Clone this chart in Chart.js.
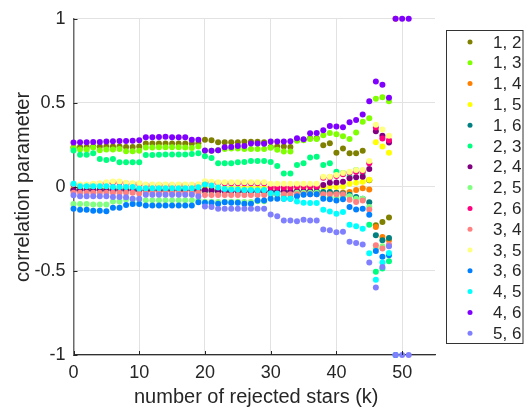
<!DOCTYPE html>
<html>
<head>
<meta charset="utf-8">
<script src="https://cdn.jsdelivr.net/npm/chart.js@4/dist/chart.umd.min.js"></script>
<style>
  html, body { margin: 0; padding: 0; background: #fff; }
  #wrap { width: 524px; height: 407px; }
</style>
</head>
<body>
<div id="wrap"><canvas id="chart" width="524" height="407"></canvas></div>
<script>
// number of rejected stars (k)
const kValues = [0, 1, 2, 3, 4, 5, 6, 7, 8, 9, 10, 11, 12, 13, 14, 15, 16, 17, 18, 19,
  20, 21, 22, 23, 24, 25, 26, 27, 28, 29, 30, 31, 32, 33, 34, 35, 36, 37, 38, 39,
  40, 41, 42, 43, 44, 45, 46, 47, 48, 49, 50, 51];

const xTickValues = [0, 10, 20, 30, 40, 50];
const yTickValues = [-1, -0.5, 0, 0.5, 1];
const yTickLabels = ['-1', '-0.5', '0', '0.5', '1'];

const seriesLabels = ['1, 2', '1, 3', '1, 4', '1, 5', '1, 6', '2, 3', '2, 4', '2, 5',
  '2, 6', '3, 4', '3, 5', '3, 6', '4, 5', '4, 6', '5, 6'];

// correlation parameter per pair, one value per k (null = no point)
const s12 = [0.235, 0.237, 0.238, 0.240, 0.240, 0.240, 0.240, 0.240, 0.238, 0.238,
  0.240, 0.258, 0.258, 0.258, 0.258, 0.258, 0.258, 0.258, 0.258, 0.260,
  0.280, 0.278, 0.265, 0.265, 0.265, 0.265, 0.268, 0.268, 0.268, 0.266,
  0.238, 0.240, 0.240, 0.238, 0.280, 0.280, 0.290, 0.290, 0.248, 0.259,
  0.203, 0.229, 0.200, 0.200, 0.215, 0.040, -0.228, -0.209, -0.182, null, null, null];
const s13 = [0.232, 0.222, 0.222, 0.235, 0.218, 0.222, 0.222, 0.225, 0.212, 0.212,
  0.215, 0.234, 0.234, 0.236, 0.236, 0.236, 0.236, 0.234, 0.232, 0.240,
  0.215, 0.215, 0.218, 0.225, 0.228, 0.228, 0.225, 0.225, 0.225, 0.225,
  0.233, 0.221, 0.210, 0.210, 0.275, 0.278, 0.285, 0.285, 0.308, 0.320,
  0.313, 0.302, 0.285, 0.323, 0.388, 0.408, 0.524, 0.534, 0.510, null, null, null];
const s14 = [-0.012, -0.015, -0.015, -0.016, -0.016, -0.015, -0.014, -0.014, -0.016, -0.018,
  -0.020, -0.022, -0.022, -0.022, -0.022, -0.022, -0.022, -0.022, -0.022, -0.020,
  -0.025, -0.025, -0.028, -0.028, -0.028, -0.028, -0.028, -0.028, -0.028, -0.028,
  -0.030, -0.030, -0.030, -0.030, -0.030, -0.030, -0.030, -0.030, -0.038, -0.036,
  -0.035, -0.033, -0.030, -0.018, -0.008, -0.016, -0.239, -0.298, -0.318, 1, null, null];
const s15 = [-0.006, -0.008, -0.008, -0.008, -0.008, -0.008, -0.006, -0.006, -0.008, -0.008,
  -0.010, -0.008, -0.008, -0.008, -0.008, -0.008, -0.008, -0.008, -0.008, -0.006,
  -0.004, -0.004, -0.006, -0.006, -0.006, -0.006, -0.006, -0.006, -0.006, -0.006,
  -0.006, -0.006, -0.006, -0.006, -0.004, -0.004, -0.004, -0.004, -0.002, 0.000,
  0.000, 0.002, 0.018, 0.024, 0.030, 0.043, 0.266, 0.240, 0.203, null, null, null];
const s16 = [-0.020, -0.020, -0.020, -0.020, -0.020, -0.020, -0.020, -0.020, -0.020, -0.020,
  -0.022, -0.022, -0.022, -0.022, -0.022, -0.022, -0.022, -0.022, -0.022, -0.022,
  -0.025, -0.025, -0.025, -0.025, -0.025, -0.025, -0.025, -0.025, -0.025, -0.025,
  -0.026, -0.026, -0.026, -0.026, -0.026, -0.026, -0.026, -0.026, -0.030, -0.030,
  -0.035, -0.040, -0.047, -0.060, -0.070, -0.091, -0.288, -0.318, -0.304, null, null, null];
const s23 = [0.217, 0.191, 0.191, 0.200, 0.166, 0.160, 0.166, 0.146, 0.146, 0.146,
  0.146, 0.190, 0.190, 0.191, 0.192, 0.192, 0.192, 0.193, 0.195, 0.200,
  0.182, 0.172, 0.140, 0.140, 0.140, 0.146, 0.148, 0.154, 0.154, 0.154,
  0.148, 0.124, 0.080, 0.080, 0.131, 0.140, 0.175, 0.179, 0.131, 0.140,
  0.090, 0.083, 0.060, 0.100, 0.080, -0.225, -0.505, -0.485, -0.442, null, null, null];
const s24 = [-0.018, -0.018, -0.018, -0.018, -0.018, -0.018, -0.018, -0.018, -0.018, -0.018,
  -0.018, -0.018, -0.018, -0.018, -0.018, -0.018, -0.018, -0.018, -0.018, -0.018,
  -0.018, -0.018, -0.026, -0.026, -0.026, -0.026, -0.026, -0.026, -0.026, -0.026,
  -0.028, -0.028, -0.028, -0.028, -0.028, -0.028, -0.028, 0.000, 0.012, 0.024,
  0.026, 0.030, 0.051, 0.057, 0.060, 0.106, 0.331, 0.305, 0.264, null, null, null];
const s25 = [-0.101, -0.101, -0.101, -0.104, -0.104, -0.104, -0.087, -0.087, -0.075, -0.075,
  -0.075, -0.079, -0.079, -0.079, -0.079, -0.079, -0.079, -0.079, -0.079, -0.076,
  -0.088, -0.088, -0.090, -0.088, -0.088, -0.088, -0.090, -0.090, -0.086, -0.086,
  -0.050, -0.050, -0.050, -0.050, -0.035, -0.035, -0.035, -0.035, -0.060, -0.060,
  -0.062, -0.060, -0.055, -0.070, -0.070, -0.120, -0.367, -0.353, -0.350, -1, null, null];
const s26 = [0.013, 0.010, 0.010, 0.013, 0.017, 0.022, 0.026, 0.026, 0.020, 0.017,
  0.017, 0.010, 0.010, 0.010, 0.010, 0.010, 0.010, 0.010, 0.010, 0.012,
  0.028, 0.025, 0.023, 0.022, 0.022, 0.022, 0.022, 0.022, 0.022, 0.022,
  -0.004, -0.004, -0.004, -0.004, 0.002, 0.002, 0.002, 0.002, 0.055, 0.058,
  0.065, 0.075, 0.085, 0.090, 0.092, 0.140, 0.353, 0.288, 0.278, null, null, null];
const s34 = [-0.035, -0.035, -0.035, -0.035, -0.035, -0.035, -0.035, -0.035, -0.035, -0.035,
  -0.040, -0.035, -0.035, -0.035, -0.035, -0.035, -0.035, -0.035, -0.035, -0.035,
  -0.048, -0.048, -0.048, -0.048, -0.048, -0.048, -0.048, -0.048, -0.048, -0.048,
  -0.043, -0.043, -0.043, -0.043, -0.043, -0.043, -0.043, -0.043, -0.043, -0.043,
  -0.043, -0.043, -0.077, -0.090, -0.081, -0.134, -0.347, -0.367, -0.343, null, null, null];
const s35 = [0.018, 0.015, 0.015, 0.018, 0.022, 0.027, 0.032, 0.032, 0.025, 0.022,
  0.022, 0.014, 0.014, 0.014, 0.014, 0.014, 0.014, 0.014, 0.014, 0.016,
  0.033, 0.030, 0.028, 0.027, 0.027, 0.027, 0.027, 0.027, 0.027, 0.027,
  0.018, 0.018, 0.018, 0.018, 0.018, 0.018, 0.018, 0.018, 0.060, 0.060,
  0.071, 0.082, 0.090, 0.100, 0.100, 0.154, 0.369, 0.341, 0.304, null, null, null];
const s36 = [-0.130, -0.136, -0.136, -0.142, -0.142, -0.145, -0.124, -0.124, -0.107, -0.101,
  -0.101, -0.110, -0.110, -0.110, -0.110, -0.110, -0.110, -0.110, -0.110, -0.091,
  -0.095, -0.095, -0.100, -0.091, -0.095, -0.095, -0.100, -0.100, -0.081, -0.081,
  -0.071, -0.071, -0.071, -0.071, -0.055, -0.046, -0.043, -0.043, -0.071, -0.074,
  -0.081, -0.074, -0.120, -0.134, -0.130, -0.166, -0.381, -0.416, -0.406, -1, null, null];
const s45 = [0.018, 0.004, 0.004, 0.004, 0.004, 0.004, 0.000, 0.000, 0.000, 0.000,
  -0.010, -0.008, -0.008, -0.008, -0.008, -0.008, -0.008, -0.008, -0.008, -0.002,
  0.014, 0.008, -0.004, -0.012, -0.015, -0.015, -0.018, -0.018, -0.020, -0.018,
  -0.038, -0.040, -0.071, -0.071, -0.087, -0.094, -0.096, -0.096, -0.136, -0.146,
  -0.160, -0.150, -0.225, -0.234, -0.249, -0.395, -0.552, -0.450, -0.393, null, null, null];
const s46 = [0.264, 0.265, 0.265, 0.267, 0.267, 0.270, 0.272, 0.273, 0.273, 0.275,
  0.277, 0.296, 0.296, 0.297, 0.298, 0.296, 0.296, 0.296, 0.281, 0.281,
  0.217, 0.215, 0.218, 0.236, 0.238, 0.244, 0.244, 0.258, 0.258, 0.256,
  0.270, 0.270, 0.270, 0.272, 0.290, 0.283, 0.319, 0.320, 0.337, 0.363,
  0.359, 0.355, 0.385, 0.398, 0.430, 0.510, 0.627, 0.607, 0.530, 1, 1, 1];
const s56 = [-0.050, -0.055, -0.055, -0.055, -0.055, -0.055, -0.060, -0.060, -0.062, -0.070,
  -0.070, -0.046, -0.046, -0.046, -0.046, -0.046, -0.046, -0.046, -0.046, -0.055,
  -0.117, -0.120, -0.130, -0.130, -0.130, -0.130, -0.130, -0.130, -0.130, -0.130,
  -0.164, -0.175, -0.200, -0.200, -0.204, -0.195, -0.200, -0.200, -0.253, -0.258,
  -0.270, -0.267, -0.326, -0.333, -0.343, -0.450, -0.598, -0.476, -0.353, -1, -1, -1];

const seriesValues = [s12, s13, s14, s15, s16, s23, s24, s25, s26, s34, s35, s36, s45, s46, s56];

const seriesColors = ['#808000', '#80ff00', '#ff8000', '#ffff00', '#008080', '#00ff80',
  '#800080', '#80ff80', '#ff0080', '#ff8080', '#ffff80', '#0080ff', '#00ffff', '#8000ff', '#8080ff'];

const FONT = '"Liberation Sans", Arial, sans-serif';
const TEXT_COLOR = '#262626';

// later series sit on top, like the original plot
const datasets = seriesLabels.map((label, i) => ({
  label: label,
  data: kValues.map((k, j) => ({ x: k, y: seriesValues[i][j] })).filter(p => p.y !== null),
  backgroundColor: seriesColors[i],
  borderWidth: 0,
  pointRadius: 3,
  pointHoverRadius: 3,
  showLine: false,
  clip: false,
  order: seriesLabels.length - i
}));

// axis titles, inward tick marks and the boxed legend
const extrasPlugin = {
  id: 'extras',
  afterDraw(chart) {
    const ctx = chart.ctx;
    const area = chart.chartArea;
    const xs = chart.scales.x;
    const ys = chart.scales.y;
    ctx.save();

    // small inward ticks
    ctx.strokeStyle = '#262626';
    ctx.lineWidth = 1;
    xTickValues.forEach(v => {
      const px = Math.round(xs.getPixelForValue(v)) + 0.5;
      ctx.beginPath();
      ctx.moveTo(px, area.bottom);
      ctx.lineTo(px, area.bottom - 4);
      ctx.stroke();
    });
    yTickValues.forEach(v => {
      const py = Math.round(ys.getPixelForValue(v)) + 0.5;
      ctx.beginPath();
      ctx.moveTo(area.left, py);
      ctx.lineTo(area.left + 4, py);
      ctx.stroke();
    });

    // axis titles
    ctx.fillStyle = TEXT_COLOR;
    ctx.font = '20px ' + FONT;
    ctx.textAlign = 'center';
    ctx.textBaseline = 'middle';
    ctx.fillText('number of rejected stars (k)', (area.left + area.right) / 2 + 2, 397);
    ctx.save();
    ctx.translate(23, (area.top + area.bottom) / 2);
    ctx.rotate(-Math.PI / 2);
    ctx.fillText('correlation parameter', 0, 0);
    ctx.restore();

    // legend box
    const bx = 446.5, by = 30.5, bw = 76.5, bh = 313;
    ctx.fillStyle = '#fff';
    ctx.fillRect(bx, by, bw, bh);
    ctx.strokeStyle = '#333';
    ctx.lineWidth = 1;
    ctx.strokeRect(bx, by, bw, bh);
    ctx.font = '17px ' + FONT;
    ctx.textAlign = 'left';
    seriesLabels.forEach((label, i) => {
      const y = 42 + i * 20.8;
      ctx.fillStyle = seriesColors[i];
      ctx.beginPath();
      ctx.arc(470, y, 2.5, 0, Math.PI * 2);
      ctx.fill();
      ctx.fillStyle = TEXT_COLOR;
      ctx.fillText(label, 493, y + 1);
    });
    ctx.restore();
  }
};

new Chart(document.getElementById('chart'), {
  type: 'scatter',
  data: { datasets: datasets },
  plugins: [extrasPlugin],
  options: {
    responsive: false,
    animation: false,
    devicePixelRatio: 1,
    layout: { padding: { top: 17, right: 89, bottom: 0, left: 0 } },
    plugins: {
      legend: { display: false },
      tooltip: { enabled: false }
    },
    scales: {
      x: {
        type: 'linear',
        min: 0,
        max: 55,
        afterBuildTicks: scale => { scale.ticks = xTickValues.map(v => ({ value: v })); },
        afterFit: scale => { scale.height = 52; },
        ticks: {
          color: TEXT_COLOR,
          font: { family: FONT, size: 18 },
          padding: 7,
          maxRotation: 0,
          callback: v => String(v)
        },
        grid: { color: '#e2e2e2', drawTicks: false, lineWidth: 1 },
        border: { display: true, color: '#303030', width: 1.2 }
      },
      y: {
        type: 'linear',
        min: -1,
        max: 1,
        afterBuildTicks: scale => { scale.ticks = yTickValues.map(v => ({ value: v })); },
        afterFit: scale => { scale.width = 73.5; },
        ticks: {
          color: TEXT_COLOR,
          font: { family: FONT, size: 18 },
          padding: 8,
          callback: v => yTickLabels[yTickValues.indexOf(v)]
        },
        grid: { color: '#e2e2e2', drawTicks: false, lineWidth: 1 },
        border: { display: true, color: '#6a6a6a', width: 1.5 }
      }
    }
  }
});
</script>
</body>
</html>
